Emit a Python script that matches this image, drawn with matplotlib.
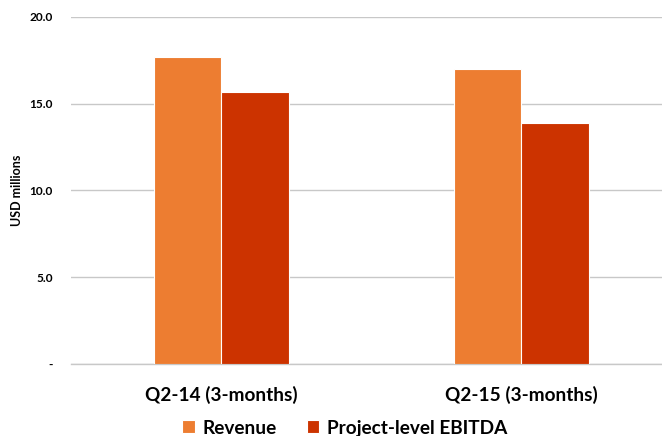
import matplotlib
matplotlib.use("Agg")
import matplotlib.pyplot as plt
import numpy as np

categories = ["Q2-14 (3-months)", "Q2-15 (3-months)"]
series_names = ["Revenue", "Project-level EBITDA"]
revenue = [17.7, 17.0]
ebitda = [15.65, 13.9]
yticks = [0, 5, 10, 15, 20]
ytick_labels = ["-", "5.0", "10.0", "15.0", "20.0"]

plt.rcParams['font.family'] = ['Lato', 'DejaVu Sans']

fig = plt.figure(figsize=(6.62, 4.36), dpi=100)
ax = fig.add_axes([71/662, 1 - 364/436, (662-71)/662, (364-17)/436])

x = np.arange(len(categories))
w = 0.225
b1 = ax.bar(x - w/2, revenue, w, color="#ED7D31", edgecolor="white", linewidth=0.8,
            label=series_names[0], zorder=3)
b2 = ax.bar(x + w/2, ebitda, w, color="#CC3300", edgecolor="white", linewidth=0.8,
            label=series_names[1], zorder=3)

ax.set_xlim(-0.5, 1.47)
ax.set_ylim(0, 20)
ax.set_yticks(yticks)
ax.set_yticklabels(ytick_labels, fontsize=8.6, fontweight="bold")
ax.set_xticks(x)
ax.set_xticklabels(categories, fontsize=13.7, fontweight="bold")
ax.tick_params(axis="y", length=0, pad=13)
ax.tick_params(axis="x", length=0, pad=16)
ax.grid(axis="y", color="#C8C8C8", linewidth=1, zorder=0)
for s in ["top", "right", "left"]:
    ax.spines[s].set_visible(False)
ax.spines["bottom"].set_color("#C8C8C8")
ax.spines["bottom"].set_linewidth(1)
ax.set_ylabel("USD millions", fontsize=9, fontweight="bold", labelpad=5)

leg = fig.legend(handles=[b1, b2], labels=series_names, loc="center",
                 bbox_to_anchor=(0.521, 1 - 428/436), ncol=2, frameon=False,
                 prop={"size": 13.7, "weight": "bold"}, handlelength=0.65,
                 handleheight=0.65, handletextpad=0.4, columnspacing=1.6,
                 borderpad=0.1)

fig.savefig("out.png", dpi=100)
